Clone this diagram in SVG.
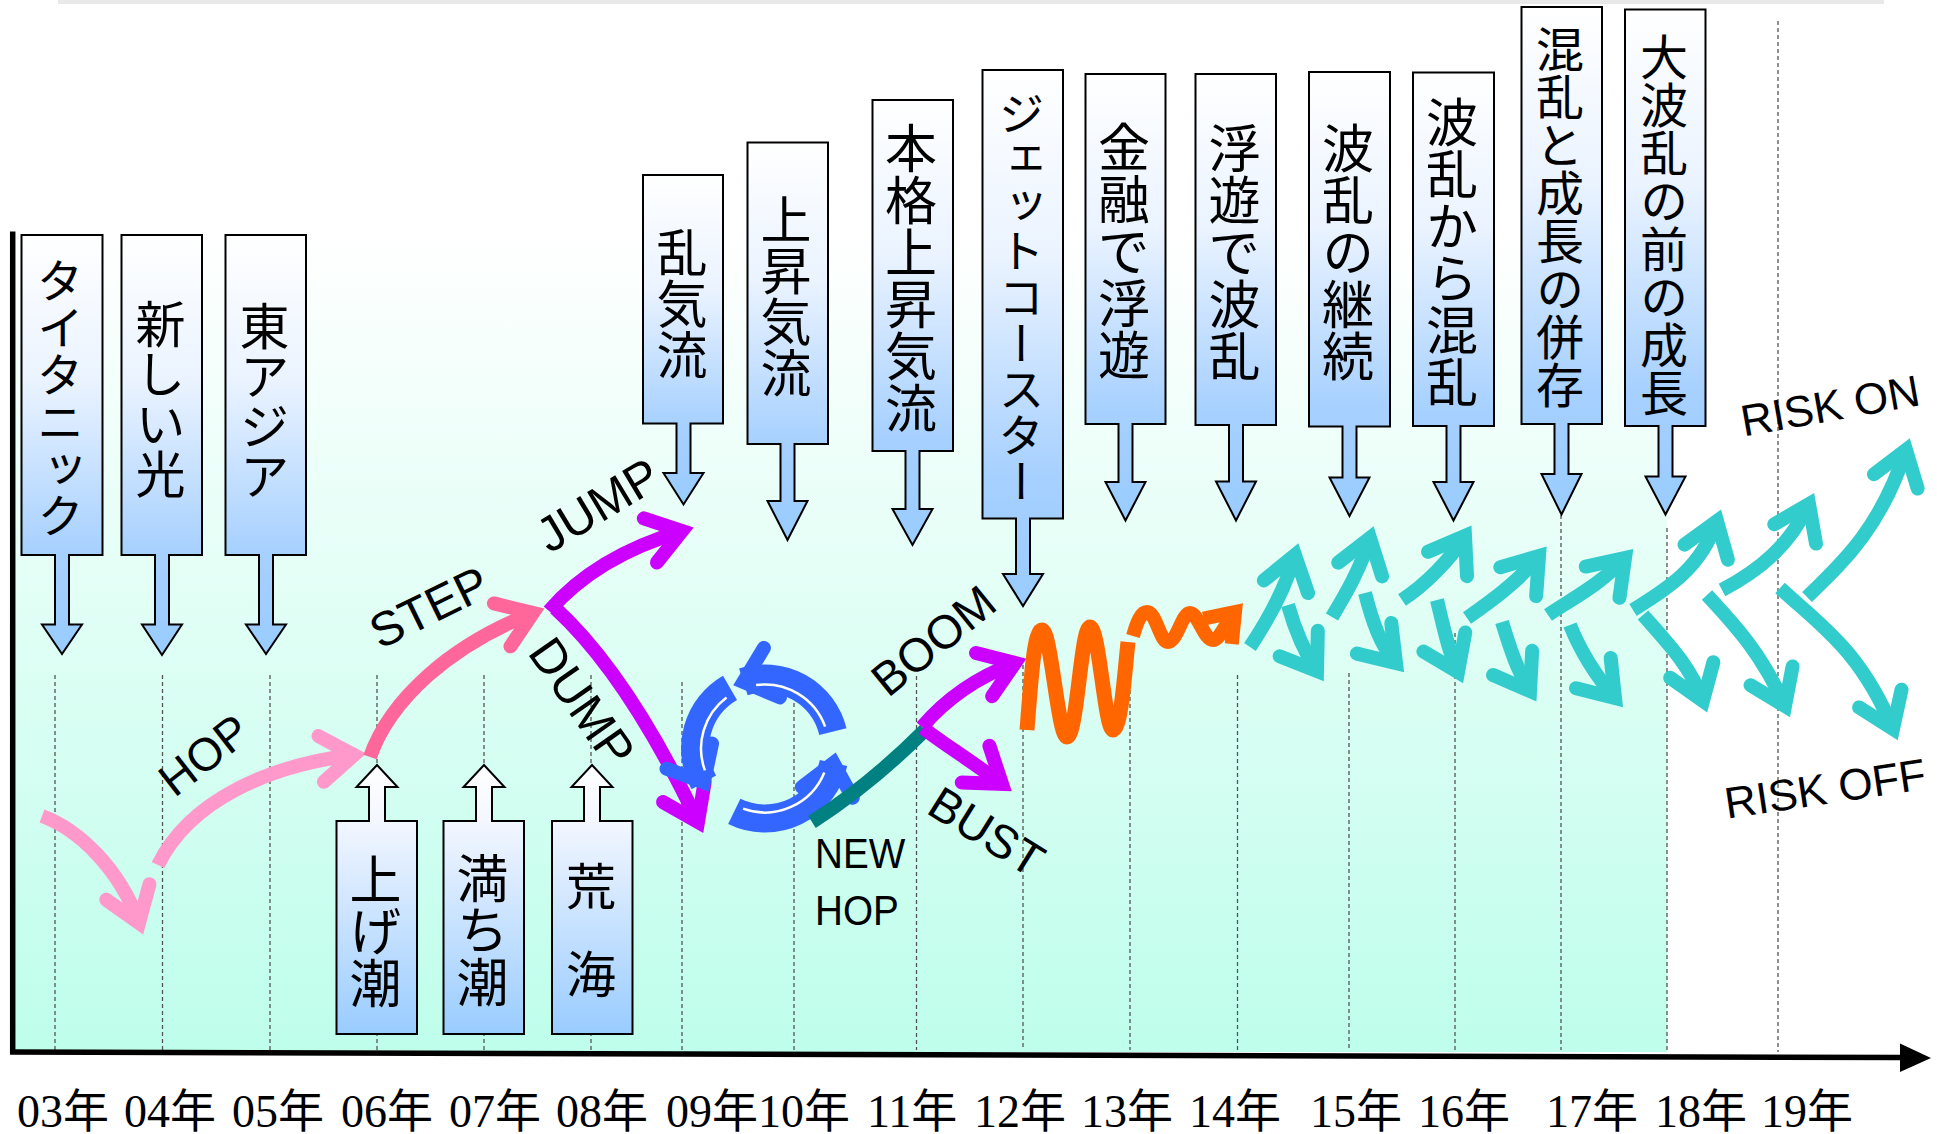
<svg xmlns="http://www.w3.org/2000/svg" width="1937" height="1134" viewBox="0 0 1937 1134">
<defs>
<linearGradient id="gBg" gradientUnits="userSpaceOnUse" x1="0" y1="232" x2="0" y2="1052"><stop offset="0" stop-color="#FFFFFF"/><stop offset="1" stop-color="#BEFEEA"/></linearGradient>
<linearGradient id="gDown" x1="0" y1="0" x2="0" y2="1"><stop offset="0" stop-color="#FFFFFF"/><stop offset="0.35" stop-color="#EAF3FF"/><stop offset="0.76" stop-color="#A6D0FF"/><stop offset="1" stop-color="#99CCFF"/></linearGradient>
<linearGradient id="gUp" x1="0" y1="0" x2="0" y2="1"><stop offset="0" stop-color="#FFFFFF"/><stop offset="0.2" stop-color="#F4F7FF"/><stop offset="1" stop-color="#99CCFF"/></linearGradient>
<marker id="mPink" markerUnits="userSpaceOnUse" orient="auto" overflow="visible"><path d="M-33,-23 L0,0 L-33,23" fill="none" stroke="#FF99CC" stroke-width="14" stroke-linecap="round"/></marker>
<marker id="mHot" markerUnits="userSpaceOnUse" orient="auto" overflow="visible"><path d="M-33,-23 L0,0 L-33,23" fill="none" stroke="#FF6699" stroke-width="14" stroke-linecap="round"/></marker>
<marker id="mMag" markerUnits="userSpaceOnUse" orient="auto" overflow="visible"><path d="M-33,-23 L0,0 L-33,23" fill="none" stroke="#CC00FF" stroke-width="14" stroke-linecap="round"/></marker>
<marker id="mCyan" markerUnits="userSpaceOnUse" orient="auto" overflow="visible"><path d="M-33,-23 L0,0 L-33,23" fill="none" stroke="#33CCCC" stroke-width="14" stroke-linecap="round"/></marker>
<marker id="mOra" markerUnits="userSpaceOnUse" orient="auto" overflow="visible"><path d="M-26,-19 L0,0 L-26,19" fill="none" stroke="#FF6600" stroke-width="14" stroke-linecap="butt"/></marker>
<marker id="mBlue" markerUnits="userSpaceOnUse" orient="auto" overflow="visible"><path d="M-30,-26 L0,0 L-30,26" fill="none" stroke="#3366FF" stroke-width="14" stroke-linecap="round"/></marker>
</defs>
<style>
.callout{stroke:#000;stroke-width:2;}
.down{fill:url(#gDown);}
.up{fill:url(#gUp);}
.vt{font-family:"Noto Sans CJK JP",sans-serif;writing-mode:vertical-rl;text-anchor:middle;fill:#000;}
.yr{font-family:"Liberation Serif","Noto Sans CJK JP",serif;font-size:46px;fill:#000;}
.lbl{font-family:"Liberation Sans",Arial,sans-serif;font-size:46px;fill:#000;text-anchor:middle;}
.grid{stroke:#555;stroke-width:1.3;stroke-dasharray:4 3;fill:none;}
.arr{fill:none;stroke-width:14;stroke-linecap:butt;stroke-linejoin:round;}
.pink{stroke:#FF99CC;marker-end:url(#mPink);}
.hot{stroke:#FF6699;marker-end:url(#mHot);}
.mag{stroke:#CC00FF;marker-end:url(#mMag);}
.cyan{stroke:#33CCCC;marker-end:url(#mCyan);}
.ora{stroke:#FF6600;}
.blue{fill:none;stroke:#3366FF;stroke-width:28;stroke-linecap:butt;marker-end:url(#mBlue);}
.bluegap{fill:none;stroke:#FFFFFF;stroke-width:2.5;}
</style>

<g id="background">
<rect x="58" y="0" width="1826" height="4" fill="#E9E9E9"/>
<rect x="13" y="232" width="1654" height="820" fill="url(#gBg)"/>
</g>

<g id="grid">
<line class="grid" x1="55" y1="675" x2="55" y2="1050"/>
<line class="grid" x1="162.5" y1="675" x2="162.5" y2="1050"/>
<line class="grid" x1="270" y1="675" x2="270" y2="1050"/>
<line class="grid" x1="377" y1="675" x2="377" y2="1050"/>
<line class="grid" x1="484" y1="675" x2="484" y2="1050"/>
<line class="grid" x1="591" y1="675" x2="591" y2="1050"/>
<line class="grid" x1="682" y1="682" x2="682" y2="1050"/>
<line class="grid" x1="794" y1="675" x2="794" y2="1050"/>
<line class="grid" x1="916.5" y1="676" x2="916.5" y2="1050"/>
<line class="grid" x1="1023" y1="665" x2="1023" y2="1050"/>
<line class="grid" x1="1130" y1="676" x2="1130" y2="1050"/>
<line class="grid" x1="1237.5" y1="675" x2="1237.5" y2="1050"/>
<line class="grid" x1="1349" y1="673" x2="1349" y2="1050"/>
<line class="grid" x1="1455" y1="633" x2="1455" y2="1050"/>
<line class="grid" x1="1561" y1="515" x2="1561" y2="1050"/>
<line class="grid" x1="1667" y1="528" x2="1667" y2="1050"/>
<line class="grid" x1="1778" y1="21" x2="1778" y2="1052"/>
</g>

<g id="axes">
<line x1="12.7" y1="231.5" x2="12.7" y2="1054" stroke="#000" stroke-width="5.5"/>
<line x1="10" y1="1052" x2="1903" y2="1057.5" stroke="#000" stroke-width="5.5"/>
<polygon points="1900,1043.5 1931,1058 1900,1072" fill="#000"/>
</g>

<g id="years">
<text class="yr" x="17" y="1127">03年</text>
<text class="yr" x="124" y="1127">04年</text>
<text class="yr" x="232" y="1127">05年</text>
<text class="yr" x="341" y="1127">06年</text>
<text class="yr" x="449" y="1127">07年</text>
<text class="yr" x="556" y="1127">08年</text>
<text class="yr" x="666" y="1127">09年</text>
<text class="yr" x="758" y="1127">10年</text>
<text class="yr" x="867" y="1127">11年</text>
<text class="yr" x="974" y="1127">12年</text>
<text class="yr" x="1081" y="1127">13年</text>
<text class="yr" x="1189" y="1127">14年</text>
<text class="yr" x="1310" y="1127">15年</text>
<text class="yr" x="1418" y="1127">16年</text>
<text class="yr" x="1546" y="1127">17年</text>
<text class="yr" x="1655" y="1127">18年</text>
<text class="yr" x="1761" y="1127">19年</text>
</g>

<g id="connectors">
<path class="arr pink" d="M42,816 C80,830 120,870 139,923"/>
<path class="arr pink" d="M158,865 C190,800 270,765 354,755"/>
<path class="arr hot" d="M370,757 C390,700 450,645 533,613"/>
<path class="arr mag" d="M549,611 C580,575 625,548 682,531"/>
<path class="arr mag" d="M555,608 C590,640 640,700 698,822"/>
<g id="cycle">
<path class="blue" d="M832.9,731.6 A70,70 0 0 0 743.4,681.9"/>
<path class="blue" d="M730,687.9 A70,70 0 0 0 703.8,782.4"/>
<path class="blue" d="M734.3,811.4 A70,70 0 0 0 833.5,763"/>
<path class="bluegap" d="M825.1,726.6 A64,64 0 0 0 756.1,685.1"/>
<path class="bluegap" d="M726.5,697.4 A64,64 0 0 0 704.9,770.4"/>
<path class="bluegap" d="M743.1,808.6 A64,64 0 0 0 824.3,772.5"/>
</g>
<path class="arr" stroke="#008080" stroke-width="11" d="M812,822 Q870,785 925,730"/>
<path class="arr mag" d="M922,727 C945,700 975,678 1015,663"/>
<path class="arr mag" d="M923,728 C945,745 970,760 1002,784"/>
<path class="arr ora" style="stroke-width:15" d="M1027,730 C1031,680 1034,630 1042,630 C1051,630 1058,737 1067,737 C1077,737 1081,627 1090,627 C1099,627 1105,730 1113,730 C1121,730 1125,670 1128,642"/>
<path class="arr ora" style="marker-end:url(#mOra)" d="M1133,636 C1137,622 1141,612 1147,612 C1156,612 1160,642 1168,642 C1177,642 1182,613 1190,613 C1198,613 1204,640 1213,640 C1220,640 1226,622 1235,612"/>
<path class="arr cyan" d="M1250,647 C1268,620 1285,590 1295,555"/>
<path class="arr cyan" d="M1288,605 C1295,630 1303,650 1317,671"/>
<path class="arr cyan" d="M1332,617 C1345,595 1360,570 1370,538"/>
<path class="arr cyan" d="M1365,593 C1372,620 1380,645 1396,663"/>
<path class="arr cyan" d="M1402,600 C1425,585 1450,560 1465,536"/>
<path class="arr cyan" d="M1437,600 C1443,625 1448,650 1458,672"/>
<path class="arr cyan" d="M1467,618 C1490,602 1518,582 1539,556"/>
<path class="arr cyan" d="M1502,622 C1510,648 1517,670 1530,691"/>
<path class="arr cyan" d="M1548,615 C1570,600 1600,585 1625,558"/>
<path class="arr cyan" d="M1570,625 C1580,650 1595,675 1615,698"/>
<path class="arr cyan" d="M1633,610 C1665,590 1700,570 1717,521"/>
<path class="arr cyan" d="M1643,615 C1665,640 1690,665 1703,701"/>
<path class="arr cyan" d="M1722,590 C1760,570 1790,545 1809,504"/>
<path class="arr cyan" d="M1707,595 C1730,620 1760,650 1785,706"/>
<path class="arr cyan" d="M1807,597 C1840,565 1880,530 1906,450"/>
<path class="arr cyan" d="M1780,588 C1820,625 1860,650 1893,729"/>
</g>

<g id="labels">
<text class="lbl" transform="translate(204,755) rotate(-38)" y="16">HOP</text>
<text class="lbl" transform="translate(429,607) rotate(-26)" y="17" style="font-size:48px">STEP</text>
<text class="lbl" transform="translate(598,505) rotate(-31)" y="17" style="font-size:49px">JUMP</text>
<text class="lbl" transform="translate(582,702) rotate(55)" y="17" style="font-size:49px">DUMP</text>
<text class="lbl" transform="translate(933,640) rotate(-39)" y="17" style="font-size:47px">BOOM</text>
<text class="lbl" transform="translate(987,831) rotate(32)" y="17" style="font-size:47px">BUST</text>
<text class="lbl" transform="translate(1830,405) rotate(-10)" y="16" style="font-size:44px">RISK ON</text>
<text class="lbl" transform="translate(1825,788) rotate(-8.5)" y="16" style="font-size:44px">RISK OFF</text>
<g transform="translate(815,0) scale(0.9,1)">
<text class="lbl" style="text-anchor:start;font-size:43px" x="0" y="868">NEW</text>
<text class="lbl" style="text-anchor:start;font-size:43px" x="0" y="925">HOP</text>
</g>
</g>

<g id="node-titanic"><path class="callout down" d="M21.5,235 H102.5 V555 H69 V624.5 H82 L62,654 L42,624.5 H55 V555 H21.5 Z"/><text class="vt" x="60.5" y="398" style="font-size:47px">タイタニック</text></g>
<g id="node-newlight"><path class="callout down" d="M121.5,235 H202 V555 H169 V624.5 H182 L162,655 L142,624.5 H155 V555 H121.5 Z"/><text class="vt" x="160.5" y="399" style="font-size:50px">新しい光</text></g>
<g id="node-eastasia"><path class="callout down" d="M225.5,235 H306 V555 H273 V624.5 H286 L266,654 L246,624.5 H259 V555 H225.5 Z"/><text class="vt" x="264.5" y="401" style="font-size:50px">東アジア</text></g>
<g id="node-turbulence"><path class="callout down" d="M643,175 H723 V423.5 H690.5 V473 H703.5 L683.5,504.5 L663.5,473 H676.5 V423.5 H643 Z"/><text class="vt" x="682" y="304" style="font-size:51px">乱気流</text></g>
<g id="node-updraft"><path class="callout down" d="M747.5,142.5 H828 V444 H794.5 V501 H807.5 L787.5,540 L767.5,501 H780.5 V444 H747.5 Z"/><text class="vt" x="786" y="296.5" style="font-size:51px">上昇気流</text></g>
<g id="node-fullupdraft"><path class="callout down" d="M872.5,100 H953 V451 H919.5 V509 H932.5 L912.5,545 L892.5,509 H905.5 V451 H872.5 Z"/><text class="vt" x="911" y="278" style="font-size:52px">本格上昇気流</text></g>
<g id="node-jetcoaster"><path class="callout down" d="M982.5,70 H1063 V518.5 H1030 V574 H1043 L1023,606 L1003,574 H1016 V518.5 H982.5 Z"/><text class="vt" x="1021.5" y="296.5" style="font-size:46px">ジェットコースター</text></g>
<g id="node-finfloat"><path class="callout down" d="M1085.5,74 H1165.5 V424 H1132.5 V482 H1145.5 L1125.5,520.5 L1105.5,482 H1118.5 V424 H1085.5 Z"/><text class="vt" x="1124" y="251" style="font-size:52px">金融で浮遊</text></g>
<g id="node-floatturmoil"><path class="callout down" d="M1195.5,74 H1276 V425 H1243 V481.5 H1256 L1236,520.5 L1216,481.5 H1229 V425 H1195.5 Z"/><text class="vt" x="1234.5" y="252.5" style="font-size:52px">浮遊で波乱</text></g>
<g id="node-turmoilcont"><path class="callout down" d="M1309,72 H1390 V426.5 H1356.5 V477.5 H1369.5 L1349.5,516 L1329.5,477.5 H1342.5 V426.5 H1309 Z"/><text class="vt" x="1348" y="252.5" style="font-size:52px">波乱の継続</text></g>
<g id="node-turmoilchaos"><path class="callout down" d="M1413,72.5 H1494 V426 H1460.5 V482 H1473.5 L1453.5,520.5 L1433.5,482 H1446.5 V426 H1413 Z"/><text class="vt" x="1452" y="252.5" style="font-size:52px">波乱から混乱</text></g>
<g id="node-chaosgrowth"><path class="callout down" d="M1521.5,7 H1602 V424 H1568.5 V474 H1581.5 L1561.5,514.5 L1541.5,474 H1554.5 V424 H1521.5 Z"/><text class="vt" x="1560" y="217" style="font-size:48px">混乱と成長の併存</text></g>
<g id="node-growthbefore"><path class="callout down" d="M1625,9.5 H1705.5 V426 H1672.5 V476.5 H1685.5 L1665.5,514.5 L1645.5,476.5 H1658.5 V426 H1625 Z"/><text class="vt" x="1664" y="225" style="font-size:48px">大波乱の前の成長</text></g>

<g id="node-risingtide"><path class="callout up" d="M336.5,1034 V821 H369 V787 H356.5 L377,765 L397.5,787 H385 V821 H417 V1034 Z"/><text class="vt" x="375.5" y="931.5" style="font-size:52px">上げ潮</text></g>
<g id="node-hightide"><path class="callout up" d="M443.5,1034 V821 H476 V787 H463.5 L484,765 L504.5,787 H492 V821 H524 V1034 Z"/><text class="vt" x="482.5" y="930.5" style="font-size:52px">満ち潮</text></g>
<g id="node-roughsea"><path class="callout up" d="M552,1034 V821 H584 V787 H571.5 L592,765 L612.5,787 H600 V821 H632.5 V1034 Z"/><text class="vt" x="591" y="886 973.5" style="font-size:50px">荒海</text></g>
</svg>
